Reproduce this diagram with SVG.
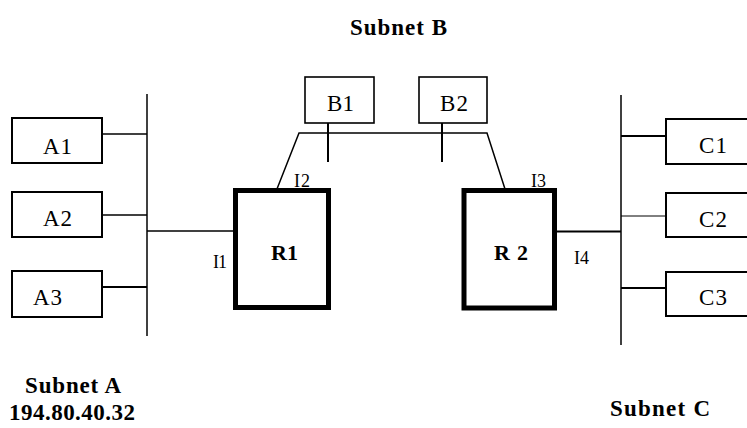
<svg xmlns="http://www.w3.org/2000/svg" width="747" height="428" viewBox="0 0 747 428">
<style>
.box{fill:#fff;stroke:#000;stroke-width:2}
.bbox{fill:#fff;stroke:#000;stroke-width:1.6}
.router{fill:#fff;stroke:#000;stroke-width:5}
.lbl{font-family:"Liberation Serif","Times New Roman",serif;font-size:23px;fill:#000}
.ifl{font-family:"Liberation Serif","Times New Roman",serif;font-size:18px;fill:#000}
.rl{font-family:"Liberation Serif","Times New Roman",serif;font-size:22px;font-weight:bold;fill:#000}
.sub{font-family:"Liberation Serif","Times New Roman",serif;font-size:23px;font-weight:bold;fill:#000}
.ln{stroke:#000;stroke-width:1.5;fill:none}
</style>
<rect width="747" height="428" fill="#fff"/>
<g id="connectors">
  <line class="ln" x1="147" y1="94" x2="147" y2="336"/>
  <line class="ln" x1="102" y1="134" x2="147" y2="134"/>
  <line class="ln" x1="102" y1="215" x2="147" y2="215" stroke-width="1" stroke="#444"/>
  <line class="ln" x1="102" y1="287" x2="147" y2="287" style="stroke-width:2.2"/>
  <line class="ln" x1="147" y1="231" x2="235" y2="231"/>
  <line class="ln" x1="621" y1="95" x2="621" y2="345"/>
  <line class="ln" x1="621" y1="136" x2="666" y2="136" style="stroke-width:2"/>
  <line class="ln" x1="621" y1="216" x2="666" y2="216" style="stroke-width:1"/>
  <line class="ln" x1="621" y1="288" x2="666" y2="288" style="stroke-width:2.2"/>
  <line class="ln" x1="555" y1="231.5" x2="621" y2="231.5" style="stroke-width:2"/>
  <polyline class="ln" points="275,194 299,133 487,133 505,189"/>
  <line class="ln" x1="328" y1="117" x2="328" y2="162" style="stroke-width:2"/>
  <line class="ln" x1="442" y1="117" x2="442" y2="162" style="stroke-width:2"/>
</g>
<g id="A1"><rect class="box" x="12" y="118" width="90" height="45"/><text class="lbl" x="43" y="154" textLength="29">A1</text></g>
<g id="A2"><rect class="box" x="12" y="192" width="90" height="45"/><text class="lbl" x="43" y="226" textLength="29">A2</text></g>
<g id="A3"><rect class="box" x="12" y="271" width="90" height="46"/><text class="lbl" x="33" y="305" textLength="29">A3</text></g>
<g id="B1"><rect class="bbox" x="305" y="77" width="69" height="46"/><text class="lbl" x="327" y="111" textLength="27">B1</text></g>
<g id="B2"><rect class="bbox" x="419" y="77" width="68" height="46"/><text class="lbl" x="440" y="111" textLength="28">B2</text></g>
<g id="C1"><rect class="box" x="666" y="119" width="100" height="45"/><text class="lbl" x="699" y="153" textLength="28">C1</text></g>
<g id="C2"><rect class="box" x="666" y="193" width="100" height="44"/><text class="lbl" x="699" y="227" textLength="28">C2</text></g>
<g id="C3"><rect class="box" x="666" y="272" width="100" height="44"/><text class="lbl" x="699" y="305" textLength="28">C3</text></g>
<g id="R1"><rect class="router" x="235.5" y="190.5" width="93" height="117"/><text class="rl" x="271" y="260" textLength="27">R1</text></g>
<g id="R2"><rect class="router" x="464" y="190.5" width="90.5" height="117.5"/><text class="rl" x="494" y="260" textLength="34">R 2</text></g>
<g id="interfaces">
  <text class="ifl" x="213" y="268" textLength="14">I1</text>
  <text class="ifl" x="294" y="187" textLength="16">I2</text>
  <text class="ifl" x="531" y="187" textLength="15">I3</text>
  <text class="ifl" x="574" y="264" textLength="15">I4</text>
</g>
<g id="subnets">
  <text class="sub" x="350" y="35" textLength="97">Subnet B</text>
  <text class="sub" x="25" y="393" textLength="96">Subnet A</text>
  <text class="sub" x="9" y="420" textLength="126">194.80.40.32</text>
  <text class="sub" x="610" y="416" textLength="100">Subnet C</text>
</g>
</svg>
